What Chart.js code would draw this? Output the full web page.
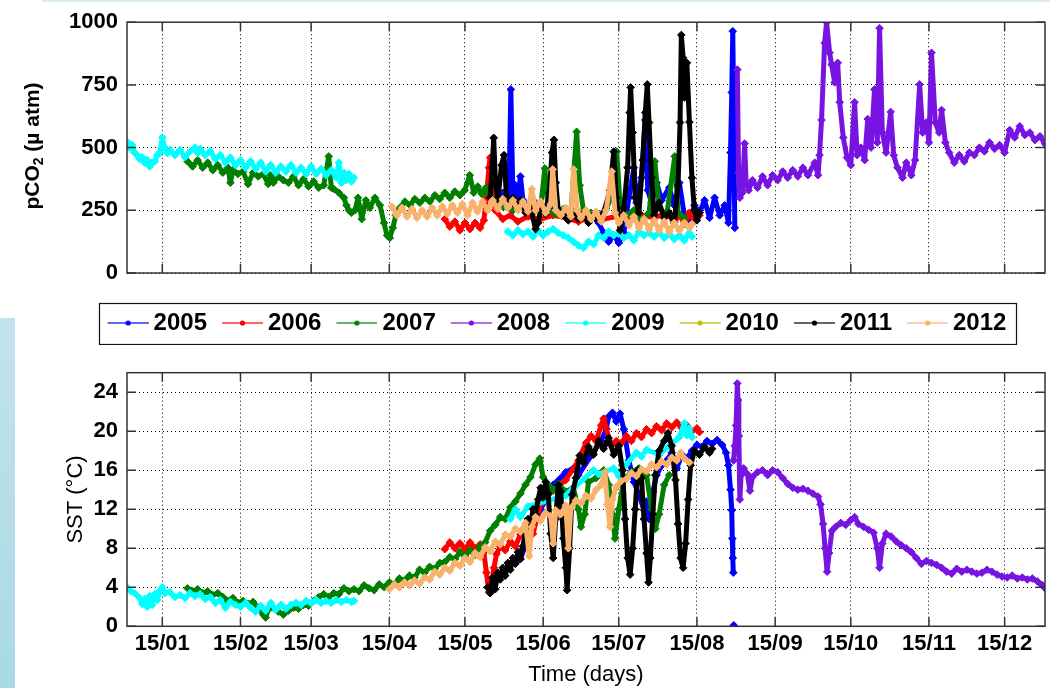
<!DOCTYPE html>
<html>
<head>
<meta charset="utf-8">
<script src="https://cdn.jsdelivr.net/npm/chart.js@4.4.1/dist/chart.umd.min.js"></script>
<style>
  html, body { margin: 0; padding: 0; background: #fff; }
  body { width: 1050px; height: 688px; position: relative; overflow: hidden; }
  #topLine { position: absolute; left: 42px; top: 0; width: 1008px; height: 2px; background: #d9edf5; }
  #sideBar { position: absolute; left: 0; top: 318px; width: 15px; height: 370px; background: linear-gradient(#c3e3ec, #a9d9e5); }
  #pco2Box { position: absolute; left: 0; top: 0; width: 1050px; height: 345px; }
  #sstBox { position: absolute; left: 0; top: 345px; width: 1050px; height: 343px; }
</style>
</head>
<body>
<div id="topLine"></div>
<div id="sideBar"></div>
<div id="pco2Box"><canvas id="pco2Chart"></canvas></div>
<div id="sstBox"><canvas id="sstChart"></canvas></div>
<script>
// years and colours of the series
var years = ['2005', '2006', '2007', '2008', '2009', '2010', '2011', '2012'];
var yearColors = ['#0000ff', '#ff0000', '#007f00', '#7814e1', '#00ffff', '#bfbf00', '#000000', '#f9b26c'];

// x axis: day of year, ticks on the 15th of each month
var monthDays = [15, 46, 74, 105, 135, 166, 196, 227, 258, 288, 319, 349];
var monthLabels = ['15/01', '15/02', '15/03', '15/04', '15/05', '15/06', '15/07', '15/08', '15/09', '15/10', '15/11', '15/12'];
var pco2Ticks = [0, 250, 500, 750, 1000];
var sstTicks = [0, 4, 8, 12, 16, 20, 24];

// ---- pCO2 (µatm) ----
var pco2Day2005 = [148, 150, 151.5, 152.5, 153.2, 154, 155, 156, 157, 158,
    160, 163, 165, 168, 172, 175, 179, 182, 185, 188,
    190, 192, 194, 196, 198, 200, 202, 203, 205, 206.5,
    207.5, 209, 211, 213, 216, 218, 220, 222, 224, 226,
    228, 230, 232, 234, 236, 238, 239.5, 240.3, 240.8, 241.2,
    241.6, 242];
var pco2Val2005 = [290, 320, 300, 340, 732, 310, 350, 300, 385, 290,
    270, 280, 275, 260, 255, 250, 245, 240, 235, 200,
    160, 125, 150, 120, 160, 300, 420, 280, 380, 610,
    330, 280, 360, 290, 340, 270, 360, 230, 200, 270,
    240, 290, 220, 300, 230, 270, 200, 480, 720, 964,
    600, 180];

var pco2Day2006 = [127, 129, 131, 133, 135, 137, 139, 141, 142.5, 143.5,
    144.5, 145, 145.5, 146, 147, 150, 153, 156, 160, 165,
    170, 175, 180, 185, 190, 195, 200, 205, 210, 215,
    218, 220, 222, 224, 226, 228];
var pco2Val2006 = [215, 185, 205, 170, 200, 175, 200, 180, 210, 300,
    420, 460, 350, 390, 250, 215, 230, 205, 225, 215,
    230, 220, 205, 225, 215, 225, 210, 230, 220, 240,
    200, 235, 195, 240, 205, 230];

var pco2Day2007 = [25, 27, 29, 31, 33, 35, 37, 39, 41, 42,
    43, 45, 47, 49, 51, 53, 55, 57, 58, 59,
    61, 63, 65, 67, 69, 71, 73, 75, 77, 79,
    81, 82, 83, 85, 87, 88, 89, 90, 91.4, 92.6,
    94.1, 95.7, 97.3, 99.3, 101.3, 102.9, 104.1, 105.2, 106.4, 107.6,
    109.2, 111.2, 113.2, 115.1, 117.1, 119.1, 121.1, 123.1, 125, 127,
    129, 131, 133, 134.9, 136.9, 138.5, 140.1, 141.7, 143.3, 144.9,
    146.8, 150, 154, 158, 162, 165, 166.7, 168, 171, 174,
    177, 179.3, 180.5, 182, 185, 188, 191, 193, 195.2, 196.5,
    199, 202, 205, 208, 210.3, 212, 215, 218.2, 219.5, 222];
var pco2Val2007 = [445, 425, 450, 420, 440, 410, 430, 400, 420, 360,
    410, 395, 405, 355, 400, 385, 395, 355, 390, 360,
    385, 370, 360, 385, 350, 375, 345, 365, 340, 350,
    465, 340, 335, 320, 300, 270, 250, 240, 250, 300,
    215, 290, 260, 300, 270, 200, 150, 140, 180, 230,
    260, 285, 270, 295, 280, 300, 285, 310, 295, 320,
    300, 325, 310, 330, 390, 320, 345, 315, 340, 310,
    290, 265, 250, 270, 240, 260, 417, 250, 235, 255,
    240, 563, 350, 250, 240, 230, 255, 300, 484, 270,
    230, 250, 210, 240, 445, 260, 230, 465, 240, 220];

var pco2Day2008 = [243, 243.5, 244, 245, 245.9, 246.5, 247.5, 249, 251, 253,
    255, 257, 259, 261, 263, 265, 267, 269, 271, 273.7,
    275, 275.6, 276.4, 277.6, 278.4, 279.6, 280.4, 281.6, 282.8, 283.6,
    285, 286.5, 288, 289.5, 290.5, 292, 293.5, 294.7, 296, 297.4,
    298.5, 299.4, 300.5, 302, 303.8, 305, 306.5, 308.5, 310, 312,
    313.5, 315.3, 316.5, 318, 319, 320, 321.5, 323, 324, 325.5,
    327, 329, 331, 333, 335, 337, 339, 341, 343, 345,
    347, 349, 351, 353, 355, 357, 359, 361, 363, 365];
var pco2Val2008 = [811, 400, 300, 320, 516, 360, 330, 370, 340, 385,
    350, 390, 370, 405, 380, 410, 385, 420, 390, 440,
    390, 470, 610, 917, 1000, 878, 831, 760, 838, 681,
    540, 460, 430, 681, 470, 500, 450, 614, 500, 732,
    520, 976, 560, 480, 642, 470, 420, 380, 440, 390,
    450, 752, 560, 600, 520, 878, 600, 560, 650, 520,
    480, 440, 470, 445, 480, 470, 500, 485, 520, 495,
    510, 480, 570, 540, 585, 550, 560, 530, 545, 515];

// 2009 has a winter and a summer part (null = gap)
var pco2Day2009 = [1, 2, 3, 4, 5, 6, 7, 8, 9, 10,
    11, 12, 13, 14, 15, 16, 17, 18, 20, 22,
    24, 26, 28, 29, 30, 32, 34, 36, 38, 40,
    42, 44, 46, 48, 50, 52, 54, 56, 58, 60,
    62, 64, 66, 68, 70, 72, 74, 76, 78, 80,
    82, 84, 85, 86, 87, 88, 89, 90, 91,
    120,
    152, 154, 156, 158, 160, 162, 164, 166, 168, 170,
    172, 174, 176, 178, 180, 182, 184, 186, 188, 190,
    192, 194, 196, 198, 200, 202, 204, 206, 208, 210,
    212, 214, 216, 218, 220, 222, 224, 225];
var pco2Val2009 = [524, 500, 510, 480, 470, 455, 462, 440, 450, 425,
    440, 445, 470, 480, 540, 500, 478, 490, 470, 490,
    462, 485, 500, 480, 495, 470, 485, 455, 470, 440,
    460, 430, 450, 420, 445, 415, 440, 405, 430, 400,
    425, 405, 430, 400, 420, 395, 425, 395, 415, 390,
    410, 380, 440, 360, 400, 370, 395, 365, 380,
    null,
    165, 150, 170, 155, 165, 145, 170, 150, 165, 175,
    160, 150, 140, 125, 110, 100, 125, 115, 150, 140,
    165, 150, 160, 140, 150, 130, 165, 150, 160, 145,
    160, 140, 155, 135, 150, 130, 160, 145];

var pco2Day2010 = [];
var pco2Val2010 = [];

var pco2Day2011 = [145, 145.8, 146.4, 147, 148, 149.5, 150.5, 151.5, 152.5, 154,
    155, 157, 159, 161, 163, 164, 165, 167, 168.5, 169.5,
    170.3, 171, 172, 174, 176, 178, 180, 182, 184, 186,
    188, 190, 192.5, 194, 195, 196.5, 198, 199.5, 200.3, 200.7,
    201.5, 202.5, 204, 205.5, 206.5, 207.3, 208, 209, 210, 212,
    214, 216, 218, 219.5, 220.3, 220.8, 221.5, 222, 223, 224,
    225, 226, 227, 228];
var pco2Val2011 = [300, 420, 539, 380, 290, 430, 470, 300, 280, 300,
    270, 290, 240, 260, 175, 200, 250, 235, 320, 480,
    531, 360, 250, 230, 210, 240, 215, 235, 200, 230,
    210, 240, 330, 484, 300, 170, 260, 420, 640, 740,
    560, 300, 240, 450, 640, 752, 600, 380, 230, 280,
    220, 240, 200, 350, 600, 949, 858, 700, 838, 602,
    380, 250, 210, 240];

var pco2Day2012 = [106, 108, 110, 112, 114, 116, 118, 120, 122, 124,
    126, 128, 130, 132, 134, 136, 138, 140, 142, 144,
    146, 148, 150, 152, 154, 156, 158, 160, 161.5, 163,
    165, 167, 169, 169.8, 171, 173, 175, 177, 178.1, 179.5,
    181, 183, 185, 187, 189, 191, 193.2, 194.5, 196, 198,
    200, 202, 204, 206, 208, 210, 212, 214, 216, 218,
    220, 222, 224, 225];
var pco2Val2012 = [265, 230, 260, 225, 255, 220, 250, 225, 260, 230,
    265, 235, 270, 240, 275, 230, 280, 245, 285, 250,
    290, 255, 295, 260, 290, 250, 285, 245, 335, 250,
    285, 240, 275, 413, 250, 230, 260, 225, 413, 250,
    220, 250, 215, 245, 205, 250, 405, 240, 200, 230,
    190, 225, 180, 215, 175, 210, 170, 205, 165, 200,
    170, 200, 180, 195];

// ---- SST (°C) ----
var sstDay2005 = [155, 157, 160, 165, 170, 175, 178, 180, 185, 189,
    191, 192, 193.5, 195, 196.5, 198, 200, 202, 204, 206,
    207, 208, 209.5, 211, 213, 215, 217, 219, 221, 223,
    225, 227, 229, 231, 233, 235, 237, 238.5, 239.5, 240.3,
    240.8, 241, 241.2, 241.4, 241.5, 241.6];
var sstVal2005 = [6.5, 6.9, 9.0, 12.0, 14.5, 15.8, 16.2, 15.5, 17.5, 19.0,
    20.2, 21.5, 21.9, 21.0, 21.8, 20.2, 17.0, 14.8, 13.5, 11.9,
    12.8, 11.0, 13.8, 15.5, 16.5, 17.0, 17.8, 16.2, 17.6, 17.2,
    18.0, 18.6, 18.4, 19.0, 18.7, 19.1, 18.6, 17.8, 16.5, 14.0,
    11.9, 9.0, 7.0, 5.5, null, 0.1];

var sstDay2006 = [127, 129, 131, 133, 135, 137, 139, 141, 142.5, 143.5,
    144.5, 145.5, 146.5, 147.5, 149, 151, 153, 155, 157, 160,
    162, 165, 170, 175, 180, 183, 185, 187, 189, 190,
    191, 193, 195, 197, 199, 201, 203, 205, 207, 209,
    211, 213, 215, 217, 219, 221, 223, 225, 227, 228];
var sstVal2006 = [7.9, 8.6, 8.0, 8.5, 7.9, 8.6, 8.0, 8.4, 7.6, 5.5,
    3.5, 4.2, 6.0, 7.4, 8.2, 7.8, 8.7, 8.2, 9.4, 10.0,
    9.5, 12.5, 14.0, 15.0, 17.0, 18.8, 19.5, 19.0, 20.6, 21.3,
    20.3, 18.5, 19.0, 18.8, 19.5, 19.0, 19.8, 19.4, 20.2, 19.8,
    20.5, 20.1, 20.8, 20.4, 20.9, 20.3, 20.6, 20.0, 20.3, 19.9];

var sstDay2007 = [25, 27, 29, 31, 33, 35, 37, 39, 41, 43,
    45, 47, 49, 51, 53, 55, 56, 57, 59, 61,
    63, 65, 67, 69, 71, 73, 75, 77, 79, 81,
    83, 85, 87, 89, 91, 93, 95, 97, 99, 101,
    103, 105, 107, 109, 111, 113, 115, 117, 119, 121,
    123, 125, 127, 129, 131, 133, 135, 137, 139, 141,
    143, 145, 147, 149, 151, 153, 155, 157, 159, 161,
    163, 164.7, 166, 168, 170, 172, 175, 178, 180, 181,
    182.5, 184, 187, 190, 192, 193.5, 194.5, 196, 198, 201,
    204, 207, 209, 210.5, 212, 214, 216];
var sstVal2007 = [3.9, 3.6, 3.8, 3.4, 3.6, 3.2, 3.4, 3.0, 2.6, 2.9,
    2.4, 2.6, 2.3, 2.5, 1.9, 1.2, 0.9, 1.7, 1.9, 1.5,
    1.2, 1.6, 1.9, 1.8, 2.2, 2.1, 2.6, 3.0, 3.3, 3.0,
    3.4, 3.3, 3.9, 3.6, 3.8, 3.6, 4.2, 3.9, 3.7, 4.3,
    4.0, 4.5, 4.3, 4.9, 4.7, 5.2, 5.0, 5.8, 5.5, 6.1,
    5.9, 6.5, 6.6, 7.1, 6.9, 7.6, 7.2, 7.8, 7.3, 8.2,
    8.6, 9.8, 10.4, 11.2, 11.0, 12.2, 12.8, 13.6, 14.5, 15.3,
    16.6, 17.2, 15.3, 14.5, 13.9, 14.6, 13.8, 14.2, 12.0, 10.2,
    11.5, 14.8, 15.2, 16.0, 14.5, 11.5, 9.0, 12.0, 15.0, 15.8,
    16.2, 15.5, 12.0, 10.0, 11.5, 14.5, 15.5];

var sstDay2008 = [241.5, 242, 242.5, 243, 243.3, 243.6, 244, 244.5, 245.5, 247,
    248, 249, 251, 253, 255, 257, 259, 261, 263, 265,
    267, 269, 271, 273, 275, 276, 277, 277.8, 278.6, 279.4,
    280.5, 282, 284, 286, 288, 289.5, 291, 293, 295, 297,
    298.5, 299.4, 300.5, 302, 304, 306, 308, 310, 312, 314,
    316, 318, 320, 322, 324, 326, 328, 330, 332, 334,
    336, 338, 340, 342, 344, 346, 348, 350, 352, 354,
    356, 358, 360, 362, 364, 365];
var sstVal2008 = [17.0, 18.5, 20.6, 24.9, 23.2, 19.5, 13.0, 15.5, 16.2, 15.6,
    13.9, 15.3, 15.8, 16.0, 15.5, 16.0, 15.8, 15.2, 14.6, 14.2,
    14.0, 14.1, 13.9, 13.6, 13.3, 12.5, 10.5, 8.0, 5.6, 7.5,
    9.8, 10.2, 10.6, 10.4, 10.9, 11.2, 10.5, 10.2, 9.9, 9.6,
    8.0, 6.0, 8.5, 9.5, 9.2, 8.7, 8.3, 8.0, 7.6, 7.0,
    6.4, 6.7, 6.5, 6.3, 6.0, 5.6, 5.4, 5.9, 5.6, 5.8,
    5.6, 5.4, 5.5, 5.8, 5.6, 5.3, 5.1, 5.0, 5.2, 4.9,
    5.0, 4.8, 4.9, 4.6, 4.2, 3.9];

var sstDay2009 = [1, 2.5, 4, 6, 7, 8, 9, 10, 11, 12,
    13, 14, 15, 16, 18, 20, 22, 24, 26, 28,
    30, 32, 34, 36, 38, 40, 42, 44, 46, 48,
    50, 52, 54, 56, 58, 60, 62, 64, 66, 68,
    70, 72, 74, 76, 78, 80, 82, 84, 86, 88,
    90, 91,
    120,
    153, 155, 157, 160, 175, 177, 186, 188, 194, 196,
    199, 203, 205, 207, 212, 216, 220, 222, 223, 224,
    225];
var sstVal2009 = [4.0, 3.6, 3.4, 2.9, 2.3, 2.8, 2.0, 3.1, 2.2, 3.3,
    2.7, 3.6, 4.0, 3.4, 3.5, 3.0, 3.2, 2.9, 3.4, 3.1,
    3.3, 2.8, 3.0, 2.4, 2.7, 1.9, 2.5, 2.2, 2.0, 2.4,
    1.9, 1.5, 2.1, 1.6, 2.4, 1.7, 2.2, 1.8, 2.2, 2.4,
    2.2, 2.6, 2.4, 2.7, 2.4, 2.6, 2.4, 2.7, 2.5, 2.7,
    2.5, 2.6,
    null,
    11.0, 12.0, 11.2, 12.3, 13.4, 13.9, 16.0, 15.6, 16.2, 15.4,
    16.6, 17.8, 17.4, 18.1, 17.6, 18.5, 19.4, 20.8, 19.6, 20.3,
    19.4];

var sstDay2010 = [];
var sstVal2010 = [];

var sstDay2011 = [144, 145, 146, 147, 148, 149, 150, 151, 152, 153,
    154, 155, 156, 157, 158, 159, 160, 161, 162, 163,
    164, 165, 166, 167, 168, 169, 170, 171, 172, 173,
    174, 175, 175.5, 176.5, 177.5, 179, 180.5, 182, 184, 186,
    188, 190, 192, 194, 196, 197.5, 198.5, 199.5, 200.5, 201.5,
    202.5, 203.5, 205, 206, 207, 207.8, 208.5, 209.5, 210.5, 212,
    214, 215.5, 217, 218.5, 219.5, 220.5, 221.5, 222.5, 223.5, 224.5,
    226, 228, 230, 232, 233];
var sstVal2011 = [4.0, 3.4, 5.0, 3.8, 5.5, 4.8, 6.0, 5.2, 6.5, 5.8,
    7.0, 6.4, 7.6, 6.9, 8.2, 9.8, 11.0, 10.4, 12.0, 11.5,
    13.0, 14.2, 13.2, 14.8, 13.6, 9.5, 7.0, 11.0, 14.5, 13.8,
    9.0, 6.0, 3.7, 8.0, 13.5, 15.2, 17.5, 16.8, 18.4, 17.6,
    19.0, 18.2, 19.3, 17.6, 18.5, 16.0, 11.0, 7.0, 5.3, 8.0,
    12.0, 16.0, 15.2, 11.0, 7.5, 4.5, 7.0, 11.5, 15.5, 18.0,
    19.0, 19.8, 18.5, 15.0, 10.5, 7.0, 6.0, 8.5, 13.0, 16.5,
    18.0, 17.6, 18.4, 17.8, 18.2];

var sstDay2012 = [105, 107, 109, 111, 113, 115, 117, 119, 121, 123,
    125, 127, 129, 131, 133, 135, 137, 139, 141, 143,
    145, 147, 149, 151, 153, 155, 157, 159, 160.5, 161.5,
    163, 165, 167, 169, 170, 171, 173, 175, 176, 177,
    179, 181, 183, 185, 187, 189, 190.5, 191.5, 192.5, 193.5,
    195, 197, 199, 201, 203, 205, 207, 209, 211, 213,
    215, 217, 219, 220.5, 222, 224];
var sstVal2012 = [3.8, 4.3, 4.0, 4.5, 4.2, 4.7, 4.4, 5.0, 4.8, 5.6,
    5.3, 6.0, 5.7, 6.5, 6.2, 7.0, 6.6, 7.5, 7.1, 8.1,
    7.7, 8.7, 8.4, 9.4, 9.2, 10.0, 9.7, 10.6, 7.2, 10.2,
    11.2, 10.8, 11.6, 11.3, 8.5, 11.9, 11.5, 12.4, 8.0, 12.1,
    12.9, 12.6, 13.4, 13.1, 14.0, 14.5, 15.8, 12.5, 10.2, 13.0,
    14.3, 14.9, 15.1, 15.7, 15.4, 16.1, 15.9, 16.6, 16.3, 16.9,
    16.6, 17.3, 17.0, 17.8, 17.2, 16.8];

var pco2Days = [pco2Day2005, pco2Day2006, pco2Day2007, pco2Day2008, pco2Day2009, pco2Day2010, pco2Day2011, pco2Day2012];
var pco2Vals = [pco2Val2005, pco2Val2006, pco2Val2007, pco2Val2008, pco2Val2009, pco2Val2010, pco2Val2011, pco2Val2012];
var sstDays = [sstDay2005, sstDay2006, sstDay2007, sstDay2008, sstDay2009, sstDay2010, sstDay2011, sstDay2012];
var sstVals = [sstVal2005, sstVal2006, sstVal2007, sstVal2008, sstVal2009, sstVal2010, sstVal2011, sstVal2012];

Chart.defaults.font.family = "'Liberation Sans', Arial, Helvetica, sans-serif";
Chart.defaults.color = '#000';

function buildDatasets(dayLists, valLists) {
    return years.map(function (yr, i) {
        return {
            label: yr,
            data: dayLists[i].map(function (d, k) { return { x: d, y: valLists[i][k] }; }),
            borderColor: yearColors[i],
            backgroundColor: yearColors[i],
            borderWidth: 5,
            pointRadius: 3.8,
            pointStyle: 'rectRot',
            pointBorderWidth: 1,
            borderJoinStyle: 'round',
            spanGaps: false,
            order: years.length - 1 - i
        };
    });
}

// small line + dot picture for the legend
function legendSwatch(color) {
    var c = document.createElement('canvas');
    c.width = 48;
    c.height = 10;
    var g = c.getContext('2d');
    g.globalAlpha = 0.6;
    g.strokeStyle = color;
    g.lineWidth = 2;
    g.beginPath();
    g.moveTo(7, 5);
    g.lineTo(48, 5);
    g.stroke();
    g.globalAlpha = 1;
    g.fillStyle = color;
    g.beginPath();
    g.arc(27.5, 5, 2.6, 0, Math.PI * 2);
    g.fill();
    return c;
}

// matlab like box with inward tick marks
var axesFrame = {
    id: 'axesFrame',
    afterDraw: function (chart) {
        var ctx = chart.ctx, a = chart.chartArea, sx = chart.scales.x, sy = chart.scales.y;
        var len = 9;
        ctx.save();
        ctx.strokeStyle = '#333';
        ctx.lineWidth = 1.5;
        ctx.strokeRect(a.left, a.top, a.right - a.left, a.bottom - a.top);
        ctx.beginPath();
        sx.ticks.forEach(function (t) {
            var px = sx.getPixelForValue(t.value);
            ctx.moveTo(px, a.bottom); ctx.lineTo(px, a.bottom - len);
            ctx.moveTo(px, a.top); ctx.lineTo(px, a.top + len);
        });
        sy.ticks.forEach(function (t) {
            var py = sy.getPixelForValue(t.value);
            ctx.moveTo(a.left, py); ctx.lineTo(a.left + len, py);
            ctx.moveTo(a.right, py); ctx.lineTo(a.right - len, py);
        });
        ctx.stroke();
        ctx.restore();
    }
};

var legendFrame = {
    id: 'legendFrame',
    afterDraw: function (chart) {
        var hb = chart.legend && chart.legend.legendHitBoxes;
        if (!hb || !hb.length) return;
        var ctx = chart.ctx;
        var first = hb[0], last = hb[hb.length - 1];
        var left = Math.round(first.left - 8.5) + 0.5;
        var right = Math.round(last.left + last.width + 10) + 0.5;
        var mid = first.top + first.height / 2;
        var top = Math.round(mid - 20.5) + 0.5;
        ctx.save();
        ctx.strokeStyle = '#111';
        ctx.lineWidth = 1.2;
        ctx.strokeRect(left, top, right - left, 41);
        ctx.restore();
    }
};

// y title with a subscript 2
var pco2Title = {
    id: 'pco2Title',
    afterDraw: function (chart) {
        var ctx = chart.ctx;
        var fam = "'Liberation Sans', Arial, Helvetica, sans-serif";
        var parts = [['pCO', 'bold 21px ' + fam, 0], ['2', 'bold 14px ' + fam, 6], [' (\u00b5 atm)', 'bold 21px ' + fam, 0]];
        ctx.save();
        var total = 0;
        parts.forEach(function (p) { ctx.font = p[1]; total += ctx.measureText(p[0]).width; });
        ctx.translate(33, 146);
        ctx.rotate(-Math.PI / 2);
        ctx.fillStyle = '#000';
        ctx.textBaseline = 'middle';
        var x = -total / 2;
        parts.forEach(function (p) {
            ctx.font = p[1];
            ctx.fillText(p[0], x, p[2]);
            x += ctx.measureText(p[0]).width;
        });
        ctx.restore();
    }
};

function monthTicks(axis) {
    axis.ticks = monthDays.map(function (v) { return { value: v }; });
}

function plainLabel(v) {
    return String(v);
}

var gridOpts = { color: '#000', lineWidth: 1, drawTicks: false };
var borderOpts = { display: false, dash: [1, 3] };

new Chart(document.getElementById('pco2Chart'), {
    type: 'line',
    data: { datasets: buildDatasets(pco2Days, pco2Vals) },
    options: {
        responsive: true,
        maintainAspectRatio: false,
        animation: false,
        layout: { padding: { top: 19, left: 66, right: 2, bottom: 0 } },
        plugins: {
            tooltip: { enabled: false },
            legend: {
                position: 'bottom',
                align: 'center',
                fullSize: true,
                labels: {
                    usePointStyle: true,
                    pointStyleWidth: 34,
                    padding: 15,
                    color: '#000',
                    font: { size: 24, weight: 'bold' },
                    generateLabels: function () {
                        return years.map(function (yr, i) {
                            return {
                                text: yr,
                                pointStyle: legendSwatch(yearColors[i]),
                                fillStyle: yearColors[i],
                                strokeStyle: yearColors[i],
                                lineWidth: 0,
                                fontColor: '#000',
                                hidden: false,
                                datasetIndex: i
                            };
                        });
                    }
                }
            }
        },
        scales: {
            x: {
                type: 'linear',
                min: 1,
                max: 365,
                afterBuildTicks: monthTicks,
                ticks: { display: false },
                grid: gridOpts,
                border: borderOpts,
                afterFit: function (axis) { axis.height = 23; }
            },
            y: {
                min: 0,
                max: 1000,
                afterBuildTicks: function (axis) { axis.ticks = pco2Ticks.map(function (v) { return { value: v }; }); },
                ticks: { padding: 9, color: '#000', font: { size: 22, weight: 'bold' }, callback: plainLabel },
                grid: gridOpts,
                border: borderOpts,
                afterFit: function (axis) { axis.width = 61; }
            }
        }
    },
    plugins: [axesFrame, legendFrame, pco2Title]
});

new Chart(document.getElementById('sstChart'), {
    type: 'line',
    data: { datasets: buildDatasets(sstDays, sstVals) },
    options: {
        responsive: true,
        maintainAspectRatio: false,
        animation: false,
        layout: { padding: { top: 27.7, left: 0, right: 2, bottom: 0 } },
        plugins: {
            tooltip: { enabled: false },
            legend: { display: false }
        },
        scales: {
            x: {
                type: 'linear',
                min: 1,
                max: 365,
                afterBuildTicks: monthTicks,
                ticks: {
                    padding: 4,
                    autoSkip: false,
                    maxRotation: 0,
                    color: '#000',
                    font: { size: 22, weight: 'bold' },
                    callback: function (v, idx) { return monthLabels[idx]; }
                },
                title: { display: true, text: 'Time (days)', color: '#000', font: { size: 22 }, padding: { top: 0, bottom: 0 } },
                grid: gridOpts,
                border: borderOpts,
                afterFit: function (axis) { axis.height = 61.7; }
            },
            y: {
                min: 0,
                max: 26,
                afterBuildTicks: function (axis) { axis.ticks = sstTicks.map(function (v) { return { value: v }; }); },
                ticks: { padding: 9, color: '#000', font: { size: 22, weight: 'bold' }, callback: plainLabel },
                title: { display: true, text: 'SST (\u00b0C)', color: '#000', font: { size: 22 }, padding: { top: 63, bottom: 0 } },
                grid: gridOpts,
                border: borderOpts,
                afterFit: function (axis) { axis.width = 127; }
            }
        }
    },
    plugins: [axesFrame]
});
</script>
</body>
</html>
